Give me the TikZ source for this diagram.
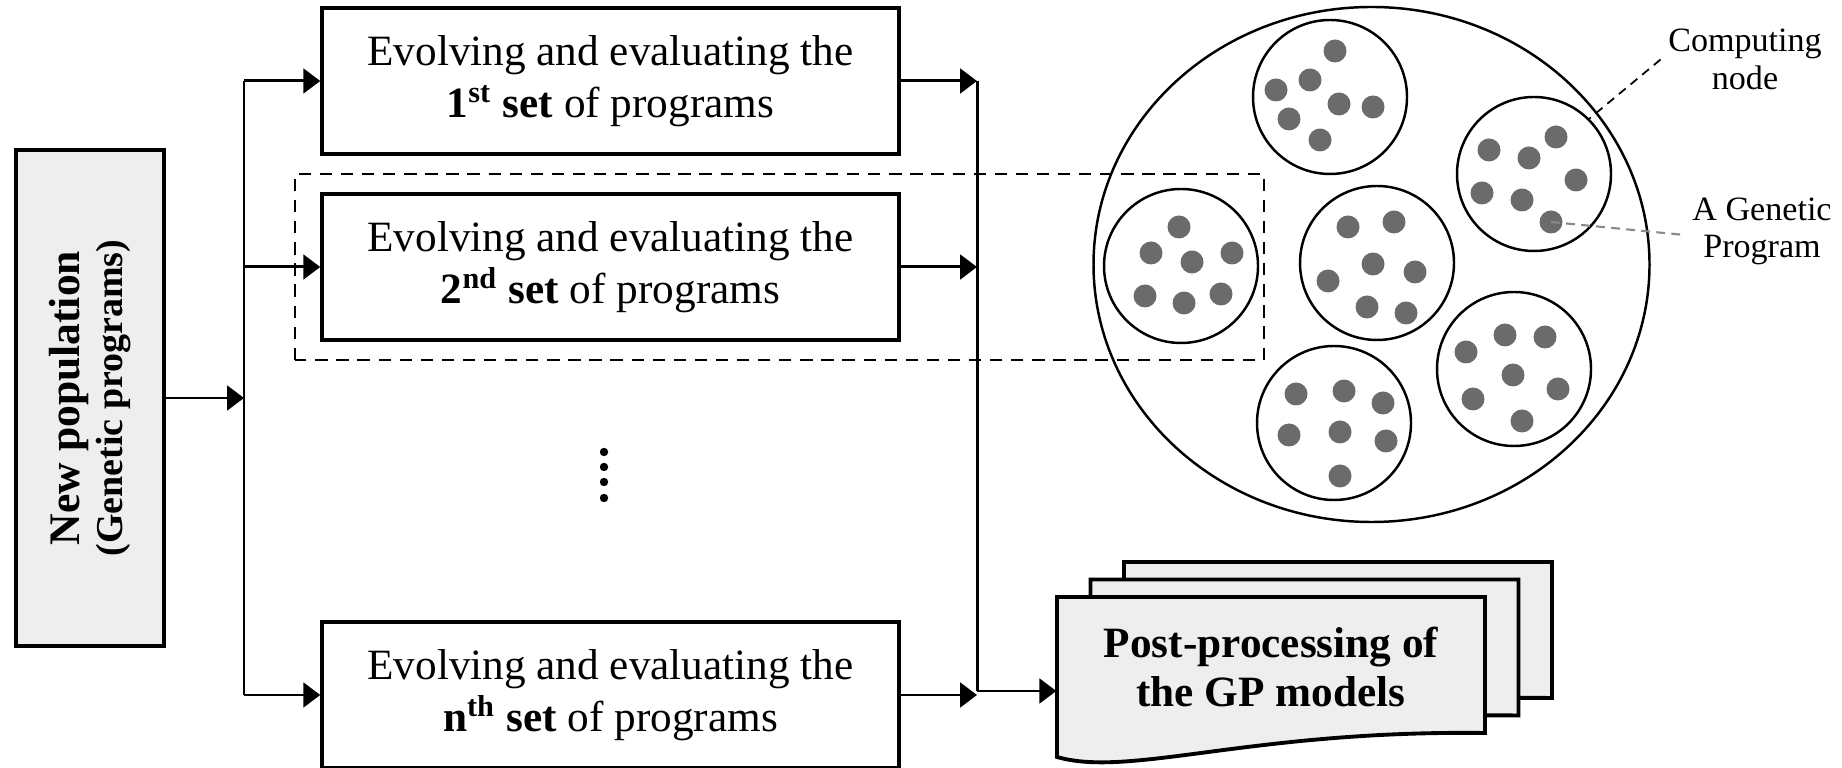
\documentclass[tikz,border=0pt]{standalone}
\usepackage{fontspec}
\setmainfont{Liberation Serif}
\usepackage{xcolor}
\usetikzlibrary{arrows.meta}

\definecolor{boxfill}{HTML}{EEEEEE}
\definecolor{dotgray}{HTML}{6B6B6B}
\definecolor{leadgray}{HTML}{8A8A8A}

\tikzset{
  flow/.style={-{Triangle[length=4.8pt,width=7pt]}, line width=0.85pt},
  setbox/.style={draw, line width=1pt, minimum width=5.77cm, minimum height=1.46cm,
    align=center, font=\fontsize{12.3}{14.8}\selectfont},
  popbox/.style={draw, fill=boxfill, line width=1.1pt, rotate=90, minimum width=4.96cm,
    minimum height=1.48cm, align=center, font=\fontsize{10.8}{12.4}\selectfont\bfseries},
  docpage/.style={draw, fill=boxfill, line width=1.1pt, line join=miter},
  cnode/.style={draw, circle, minimum size=1.54cm, inner sep=0pt, line width=0.7pt},
  progdot/.style={fill=dotgray},
  note/.style={align=center, inner sep=2pt, font=\fontsize{9.7}{10.8}\selectfont}
}

\begin{document}
\begin{tikzpicture}
\useasboundingbox (0,0) rectangle (18.42,7.68);

% population and the sets of programs
\node[popbox] (pop) at (0.90,3.70) {{\fontsize{12.4}{12.4}\selectfont New population}\\(Genetic programs)};
\node[setbox] (set1) at (6.105,6.87) {Evolving and evaluating the\\\textbf{1\textsuperscript{st} set} of programs};
\node[setbox] (set2) at (6.105,5.01) {Evolving and evaluating the\\\textbf{2\textsuperscript{nd} set} of programs};
\node[setbox] (setn) at (6.105,0.73) {Evolving and evaluating the\\\textbf{n\textsuperscript{th} set} of programs};
\foreach \y in {3.16,3.01,2.86,2.70}
  \fill (6.04,\y) circle (0.042);

% left and right bus lines
\coordinate (ltop) at (2.44,6.87);
\coordinate (lbot) at (2.44,0.73);
\coordinate (rtop) at (9.77,6.87);
\coordinate (rbot) at (9.77,0.77);
\draw[line width=0.85pt] (ltop) -- (lbot);
\draw[line width=0.85pt] (rtop) -- (rbot);
% pop is rotated, so its right side is pop.south
\draw[flow] (pop.south) -- (pop.south -| ltop);
\foreach \b in {set1,set2,setn} {
  \draw[flow] (\b.west -| ltop) -- (\b.west);
  \draw[flow] (\b.east) -- (\b.east -| rtop);
}

% stack of post-processing pages
\foreach \s in {2,1,0}
  \draw[docpage, shift={(0.335*\s,0.175*\s)}] (10.57,1.71) -- (14.85,1.71) -- (14.85,0.35)
    .. controls (12.5,0.38) and (11.3,-0.10) .. (10.57,0.11) -- cycle;
\node[minimum width=4.28cm, align=center, font=\fontsize{12.3}{14.2}\selectfont\bfseries] (post) at (12.71,1.01) {Post-processing of\\the GP models};
\draw[flow] (rbot) -- (rbot -| post.west);

% dashed group round the 2nd set
\draw[line width=0.6pt, dash pattern=on 3.5pt off 2.5pt] (2.95,4.08) rectangle (12.64,5.94);

% cluster of computing nodes
\draw[line width=0.7pt] (13.715,5.035) ellipse (2.78 and 2.575);
\foreach \n/\x/\y in {1/13.30/6.71, 2/15.34/5.94, 3/11.81/5.02, 4/13.77/5.05, 5/15.14/3.99, 6/13.34/3.45}
  \node[cnode] (cn\n) at (\x,\y) {};
\foreach \x/\y in {13.35/7.17, 12.76/6.78, 13.10/6.88, 12.89/6.49, 13.39/6.64, 13.73/6.61, 13.20/6.28,
    15.56/6.31, 14.89/6.18, 15.29/6.10, 15.76/5.88, 14.82/5.75, 15.22/5.68, 15.51/5.46,
    11.79/5.41, 11.51/5.15, 11.92/5.06, 12.32/5.15, 11.45/4.72, 11.84/4.65, 12.21/4.74,
    13.48/5.41, 13.94/5.46, 13.73/5.04, 14.15/4.96, 13.28/4.87, 13.67/4.61, 14.06/4.55,
    15.05/4.33, 15.45/4.31, 14.66/4.16, 15.13/3.93, 15.58/3.79, 14.73/3.69, 15.22/3.47,
    12.96/3.74, 13.44/3.77, 13.83/3.65, 12.89/3.33, 13.40/3.36, 13.86/3.27, 13.40/2.92}
  \fill[progdot] (\x,\y) circle (0.115);
\coordinate (gp) at (15.51,5.46);

% labels
\node[note] (cnlab) at (17.45,7.085) {Computing\\node};
\node[note, font=\fontsize{9.7}{10.5}\selectfont] (gplab) at (17.62,5.37) {A Genetic\\Program};
\draw[line width=0.5pt, dash pattern=on 2.5pt off 1.8pt] (cnlab.west) -- (cn2.45);
\draw[leadgray, line width=0.6pt, dash pattern=on 2.5pt off 1.8pt] (gp) -- ([yshift=-0.4mm]gplab.west);
\end{tikzpicture}
\end{document}
